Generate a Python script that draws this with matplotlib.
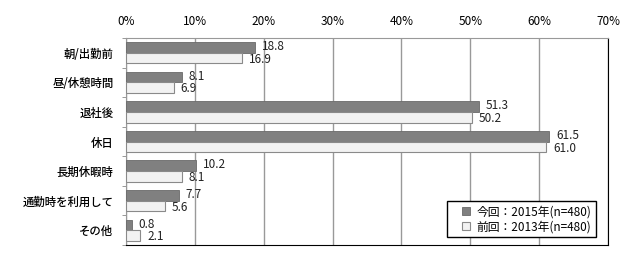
import numpy as np
import matplotlib.pyplot as plt
from matplotlib.lines import Line2D

plt.rcParams['font.family'] = ['Noto Sans CJK JP', 'DejaVu Sans']

categories = ['朝/出勤前', '昼/休憩時間', '退社後', '休日', '長期休暇時', '通勤時を利用して', 'その他']
values_2015 = [18.8, 8.1, 51.3, 61.5, 10.2, 7.7, 0.8]
values_2013 = [16.9, 6.9, 50.2, 61.0, 8.1, 5.6, 2.1]
series_names = ['今回：2015年(n=480)', '前回：2013年(n=480)']
ticks = [0, 10, 20, 30, 40, 50, 60, 70]

fig = plt.figure(figsize=(6.4, 2.63), dpi=100)
ax = fig.add_axes([126 / 640, 18 / 263, 482 / 640, 207 / 263])

y = np.arange(len(categories))
h = 0.36
ax.barh(y - h / 2, values_2015, height=h, color='#808080', edgecolor='#6a6a6a', linewidth=0.6, zorder=3)
ax.barh(y + h / 2, values_2013, height=h, color='#f2f2f2', edgecolor='#8a8a8a', linewidth=0.8, zorder=3)

for i in range(len(categories)):
    ax.text(values_2015[i] + 1.0, y[i] - h / 2 - 0.03, f'{values_2015[i]:.1f}', va='center', ha='left',
            fontsize=8.5, color='#222222', zorder=4)
    ax.text(values_2013[i] + 1.0, y[i] + h / 2 + 0.04, f'{values_2013[i]:.1f}', va='center', ha='left',
            fontsize=8.5, color='#222222', zorder=4)

ax.set_xlim(0, 70)
ax.set_ylim(len(categories) - 0.5, -0.5)
ax.set_xticks(ticks)
ax.set_xticklabels([f'{t}%' for t in ticks], fontsize=8.5)
ax.xaxis.tick_top()
ax.tick_params(axis='x', length=0, pad=7)
ax.set_yticks(np.arange(len(categories) + 1) - 0.5, minor=True)
ax.set_yticks(y)
ax.set_yticklabels(categories, fontsize=8.2, fontweight='medium')
ax.tick_params(axis='y', which='major', length=0, pad=9)
ax.tick_params(axis='y', which='minor', length=3, color='#888888')
ax.grid(axis='x', color='#999999', linewidth=1, zorder=0)

ax.spines['top'].set_color('#999999')
ax.spines['left'].set_color('#999999')
ax.spines['right'].set_color('black')
ax.spines['bottom'].set_color('black')

handles = [
    Line2D([], [], linestyle='none', marker='s', markersize=6, markerfacecolor='#808080',
           markeredgecolor='#6a6a6a', markeredgewidth=0.6),
    Line2D([], [], linestyle='none', marker='s', markersize=6, markerfacecolor='#f2f2f2',
           markeredgecolor='#8a8a8a', markeredgewidth=0.8),
]
leg = ax.legend(handles, series_names, loc='lower right', bbox_to_anchor=(0.987, 0.008), fontsize=8.5,
                frameon=True, fancybox=False, edgecolor='black', framealpha=1, handlelength=2.6,
                handletextpad=-0.4, borderpad=0.35, labelspacing=0.15)
leg.get_frame().set_linewidth(1)

fig.savefig('out.png', dpi=100)
